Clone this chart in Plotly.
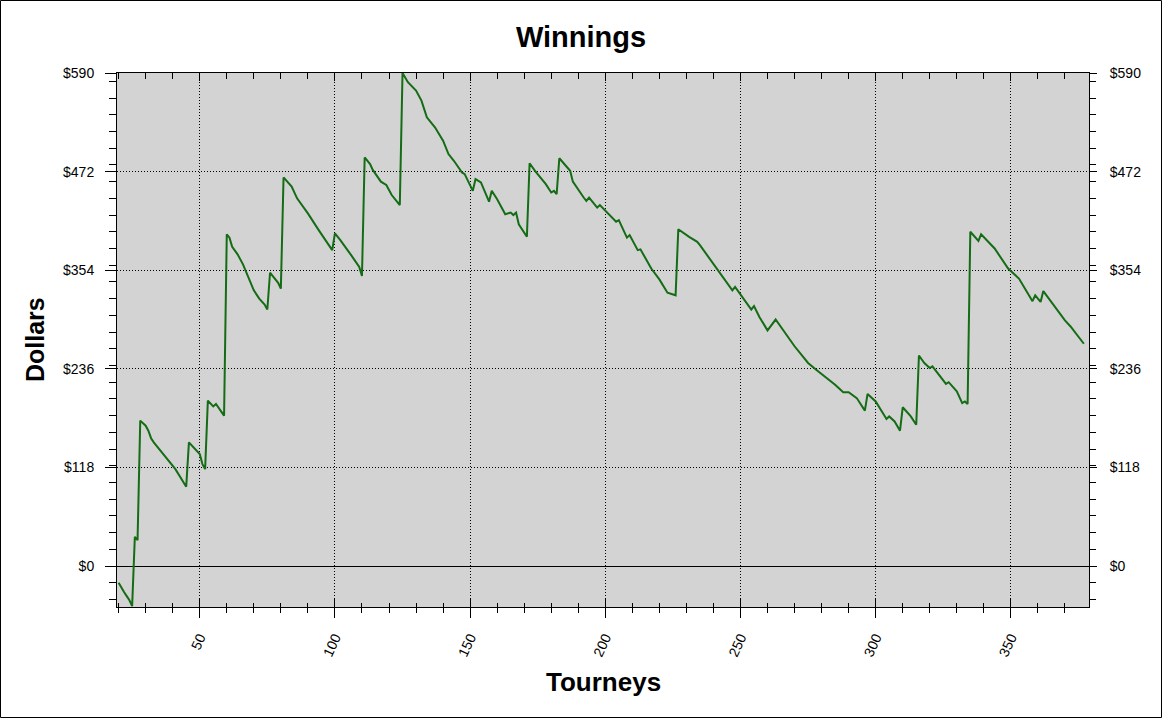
import plotly.graph_objects as go

# Tourney number and cumulative winnings
tourneys = [20, 21, 22, 23, 24, 25, 26, 27, 28, 30, 31, 32, 33, 41, 45, 46, 49, 50, 51, 52,
            53, 55, 56, 59, 60, 61, 62, 64, 66, 67, 70, 72, 74, 75, 76, 79, 80, 81, 84, 86,
            90, 94, 98, 99, 100, 102, 106, 109, 110, 111, 113, 114, 117, 119, 121, 122, 124, 125, 127, 130,
            132, 134, 137, 140, 142, 144, 147, 148, 151, 152, 154, 157, 158, 160, 163, 165, 166, 167, 168, 171,
            172, 174, 178, 180, 181, 182, 183, 187, 188, 192, 193, 194, 197, 198, 204, 205, 208, 209, 212, 213,
            217, 220, 223, 226, 227, 231, 234, 235, 242, 247, 248, 254, 255, 257, 260, 263, 270, 275, 278, 285,
            288, 290, 293, 296, 297, 300, 304, 305, 307, 309, 310, 313, 315, 316, 318, 320, 321, 326, 327, 330,
            332, 333, 334, 335, 338, 339, 344, 349, 353, 358, 359, 361, 362, 366, 370, 372, 374, 375, 377]
dollars = [-20, -26, -31, -36, -41, -48, 35, 31, 174, 168, 162, 153, 148, 116, 95, 148, 138, 134, 122, 116,
           198, 191, 194, 180, 397, 393, 382, 373, 361, 353, 330, 320, 313, 307, 351, 339, 332, 465, 454, 440,
           422, 402, 384, 378, 398, 390, 372, 358, 347, 489, 481, 474, 460, 456, 444, 440, 432, 590, 579, 569,
           557, 537, 525, 509, 493, 485, 471, 469, 449, 463, 459, 436, 449, 439, 421, 423, 420, 423, 409, 394,
           482, 473, 457, 447, 449, 445, 488, 473, 460, 441, 437, 441, 429, 432, 412, 414, 393, 396, 378, 379,
           356, 343, 327, 324, 403, 394, 388, 384, 353, 330, 334, 307, 311, 298, 282, 295, 263, 243, 235, 217,
           208, 208, 201, 186, 206, 197, 176, 179, 173, 162, 190, 179, 169, 252, 243, 237, 239, 218, 220, 209,
           195, 197, 194, 400, 389, 397, 380, 356, 344, 317, 324, 316, 329, 312, 294, 287, 278, 274, 266]

y_tickvals = [0, 118, 236, 354, 472, 590]
y_ticktext = ["$0", "$118", "$236", "$354", "$472", "$590"]

X_RANGE = [19.4, 378.9]
Y_RANGE = [-49, 590]
FONT = "Liberation Sans, Arial, sans-serif"

W, H = 1162, 718
ML, MR, MT, MB = 117, 73, 73, 111
PW, PH = W - ML - MR, H - MT - MB

fig = go.Figure()
fig.add_trace(go.Scatter(x=tourneys, y=dollars, mode="lines",
                         line=dict(color="#146c14", width=2), showlegend=False,
                         hoverinfo="x+y"))
# invisible helpers so the mirrored axes get drawn
fig.add_trace(go.Scatter(x=tourneys, y=dollars, xaxis="x2", yaxis="y2", mode="lines",
                         line=dict(color="rgba(0,0,0,0)", width=0), showlegend=False, hoverinfo="skip"))
fig.add_trace(go.Scatter(x=tourneys, y=dollars, xaxis="x3", yaxis="y", mode="lines",
                         line=dict(color="rgba(0,0,0,0)", width=0), showlegend=False, hoverinfo="skip"))

tickfont = dict(family=FONT, size=14, color="#000")

fig.update_layout(
    width=W, height=H,
    margin=dict(l=ML, r=MR, t=MT, b=MB, pad=0),
    paper_bgcolor="white", plot_bgcolor="#d3d3d3",
    font=dict(family=FONT, color="#000"),
    title=dict(text="<b>Winnings</b>", x=0.5, xref="container", xanchor="center",
               y=1 - 37 / H, yref="container", yanchor="middle",
               font=dict(family=FONT, size=29, color="#000")),
    xaxis=dict(range=X_RANGE, tick0=0, dtick=50, ticks="outside", ticklen=10, tickcolor="#000",
               tickangle=-65, tickfont=tickfont, showline=True, linecolor="#000", linewidth=1,
               showgrid=True, gridcolor="#000", gridwidth=1, griddash="1px,2px", zeroline=False,
               minor=dict(dtick=10, tick0=0, ticks="outside", ticklen=5, tickcolor="#000", showgrid=False),
               ticklabelstandoff=6),
    xaxis2=dict(range=X_RANGE, overlaying="x", side="top", anchor="y2", tick0=0, dtick=50,
                ticks="inside", ticklen=8, tickcolor="#000", showticklabels=False,
                showline=True, linecolor="#000", linewidth=1, showgrid=False, zeroline=False,
                minor=dict(dtick=10, tick0=0, ticks="inside", ticklen=6, tickcolor="#000", showgrid=False)),
    xaxis3=dict(range=X_RANGE, overlaying="x", side="bottom", anchor="y", tick0=0, dtick=50,
                ticks="inside", ticklen=9, tickcolor="#000", showticklabels=False,
                showline=False, showgrid=False, zeroline=False,
                minor=dict(dtick=10, tick0=0, ticks="inside", ticklen=4, tickcolor="#000", showgrid=False)),
    yaxis=dict(range=Y_RANGE, tickmode="array", tickvals=y_tickvals, ticktext=y_ticktext,
               ticks="outside", ticklen=11, tickcolor="#000", tickfont=tickfont,
               showline=True, linecolor="#000", linewidth=1,
               showgrid=True, gridcolor="#000", gridwidth=1, griddash="1px,2px",
               zeroline=True, zerolinecolor="#000", zerolinewidth=1,
               minor=dict(dtick=20, tick0=0, ticks="outside", ticklen=7, tickcolor="#000", showgrid=False),
               ticklabelstandoff=8),
    yaxis2=dict(range=Y_RANGE, overlaying="y", side="right", anchor="x2", tickmode="array",
                tickvals=y_tickvals, ticktext=y_ticktext,
                ticks="outside", ticklen=7, tickcolor="#000", tickfont=tickfont,
                showline=True, linecolor="#000", linewidth=1, showgrid=False, zeroline=False,
                minor=dict(dtick=20, tick0=0, ticks="outside", ticklen=6, tickcolor="#000", showgrid=False),
                ticklabelstandoff=10),
    annotations=[
        dict(text="<b>Dollars</b>", textangle=-90, xref="paper", yref="paper",
             x=(35 - ML) / PW, y=0.5, xanchor="center", yanchor="middle", showarrow=False,
             font=dict(family=FONT, size=25, color="#000")),
        dict(text="<b>Tourneys</b>", xref="paper", yref="paper",
             x=0.5, y=(H - MB - 682) / PH, xanchor="center", yanchor="middle", showarrow=False,
             font=dict(family=FONT, size=26, color="#000")),
    ],
    shapes=[dict(type="rect", xref="paper", yref="paper",
                 x0=(0.5 - ML) / PW, x1=(W - 0.5 - ML) / PW,
                 y0=(H - MB - (H - 0.5)) / PH, y1=(H - MB - 0.5) / PH,
                 line=dict(color="#000", width=1), fillcolor="rgba(0,0,0,0)", layer="above")],
)

fig.write_html("out.html", config={"displayModeBar": False},
               post_script="document.body.style.margin='0';document.body.style.overflow='hidden';")
